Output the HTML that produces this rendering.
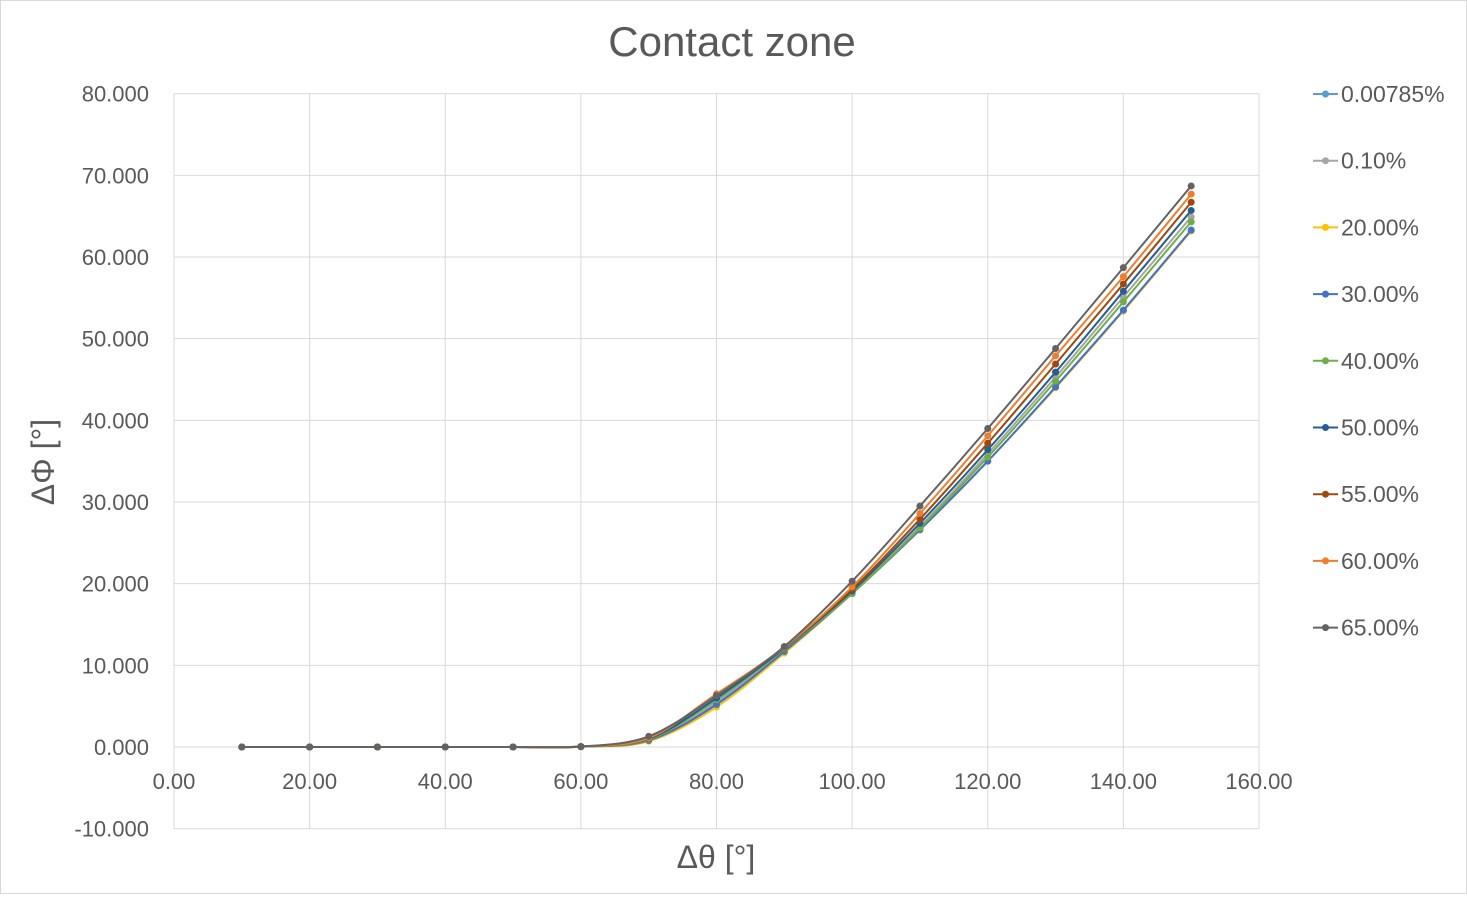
<!DOCTYPE html>
<html><head><meta charset="utf-8"><style>
body{margin:0;background:#fff;font-family:"Liberation Sans",sans-serif}
svg text{font-family:"Liberation Sans",sans-serif;fill:#595959}
</style></head><body>
<svg id="chart" width="1467" height="894" viewBox="0 0 1467 894" xmlns="http://www.w3.org/2000/svg">
<rect x="0.5" y="0.5" width="1466" height="893" fill="#fff" stroke="#d9d9d9"/>
<text x="732" y="56" font-size="42" text-anchor="middle">Contact zone</text>
<g id="grid"></g>
<g id="ticks"></g>
<g id="series"></g>
<g id="legend"></g>
<text x="716" y="868" font-size="32" text-anchor="middle">Δθ [°]</text>
<text transform="translate(54,462) rotate(-90)" font-size="32" text-anchor="middle">ΔΦ [°]</text>
</svg>
<script>
const xVals=[10,20,30,40,50,60,70,80,90,100,110,120,130,140,150];
const xTicks=["0.00","20.00","40.00","60.00","80.00","100.00","120.00","140.00","160.00"];
const yTicks=["-10.000","0.000","10.000","20.000","30.000","40.000","50.000","60.000","70.000","80.000"];
const seriesNames=["0.00785%","0.10%","20.00%","30.00%","40.00%","50.00%","55.00%","60.00%","65.00%"];
const seriesColors=["#5b9bd5","#a5a5a5","#ffc000","#4472c4","#70ad47","#255e91","#9e480e","#ed7d31","#636363"];
const s0=[0,0,0,0,0,0.05,0.8,5.3,11.7,18.8,26.6,35.0,44.0,53.4,63.2];
const s1=[0,0,0,0,0,0.05,0.9,5.6,11.9,18.9,27.0,35.9,45.3,55.1,64.9];
const s2=[0,0,0,0,0,0.05,0.7,4.9,11.5,18.8,26.6,35.0,44.0,53.4,63.2];
const s3=[0,0,0,0,0,0.05,0.8,5.2,11.7,18.8,26.6,35.0,44.1,53.5,63.3];
const s4=[0,0,0,0,0,0.05,0.9,5.8,12.0,18.8,26.8,35.5,44.8,54.5,64.3];
const s5=[0,0,0,0,0,0.05,1.0,6.0,12.1,19.1,27.4,36.4,45.9,55.8,65.7];
const s6=[0,0,0,0,0,0.05,1.1,6.4,12.2,19.3,27.9,37.2,46.9,56.7,66.7];
const s7=[0,0,0,0,0,0.05,1.1,6.5,12.2,19.6,28.6,38.1,47.9,57.6,67.7];
const s8=[0,0,0,0,0,0.05,1.3,6.3,12.3,20.3,29.5,39.0,48.8,58.7,68.7];
const allSeries=[s0,s1,s2,s3,s4,s5,s6,s7,s8];
const NS="http://www.w3.org/2000/svg";
const X0=174,X1=1259,Y0=747,PX=(1259-174)/160,PY=(828-93)/90;
const xs=v=>X0+v*PX, ys=v=>Y0-v*PY;
function mk(tag,attrs,parent){const e=document.createElementNS(NS,tag);for(const k in attrs)e.setAttribute(k,attrs[k]);parent.appendChild(e);return e;}
const grid=document.getElementById('grid'),ticks=document.getElementById('ticks'),series=document.getElementById('series'),legend=document.getElementById('legend');
yTicks.forEach((t,i)=>{const v=-10+i*10;const y=ys(v);
 const l=mk('line',{x1:X0,x2:X1,y1:y,y2:y,stroke:'#d9d9d9','stroke-width':1},grid);
 
 
 const tx=mk('text',{x:149,y:y+8,'font-size':22,'text-anchor':'end'},ticks);tx.textContent=t;
 
 
});
xTicks.forEach((t,i)=>{const x=xs(i*20);
 const l=mk('line',{x1:x,x2:x,y1:ys(80),y2:ys(-10),stroke:'#d9d9d9','stroke-width':1},grid);
 
 
 const tx=mk('text',{x:x,y:789,'font-size':22,'text-anchor':'middle'},ticks);tx.textContent=t;
 
 
});
function smooth(pts){let d=`M${pts[0][0]},${pts[0][1]}`;const t=0.5/3;
 for(let i=0;i<pts.length-1;i++){const p0=pts[i-1]||pts[i],p1=pts[i],p2=pts[i+1],p3=pts[i+2]||p2;
  d+=` C${p1[0]+(p2[0]-p0[0])*t},${p1[1]+(p2[1]-p0[1])*t} ${p2[0]-(p3[0]-p1[0])*t},${p2[1]-(p3[1]-p1[1])*t} ${p2[0]},${p2[1]}`;}
 return d;}
allSeries.forEach((s,k)=>{const c=seriesColors[k];const pts=s.map((v,i)=>[xs(xVals[i]),ys(v)]);
 const g=mk('g',{},series);
 
 
 const p=mk('path',{d:smooth(pts),fill:'none',stroke:c,'stroke-width':2},g);
 
 
 pts.forEach(q=>{const m=mk('circle',{cx:q[0],cy:q[1],r:3.5,fill:c},g);
  
  });
 const ly=94+k*66.7;
 const lg=mk('g',{},legend);
 
 
 mk('line',{x1:1313,x2:1338,y1:ly,y2:ly,stroke:c,'stroke-width':2},lg);
 mk('circle',{cx:1325.5,cy:ly,r:3.5,fill:c},lg);
 const tx=mk('text',{x:1341,y:ly+8,'font-size':23},lg);tx.textContent=seriesNames[k];
});
</script>
</body></html>
